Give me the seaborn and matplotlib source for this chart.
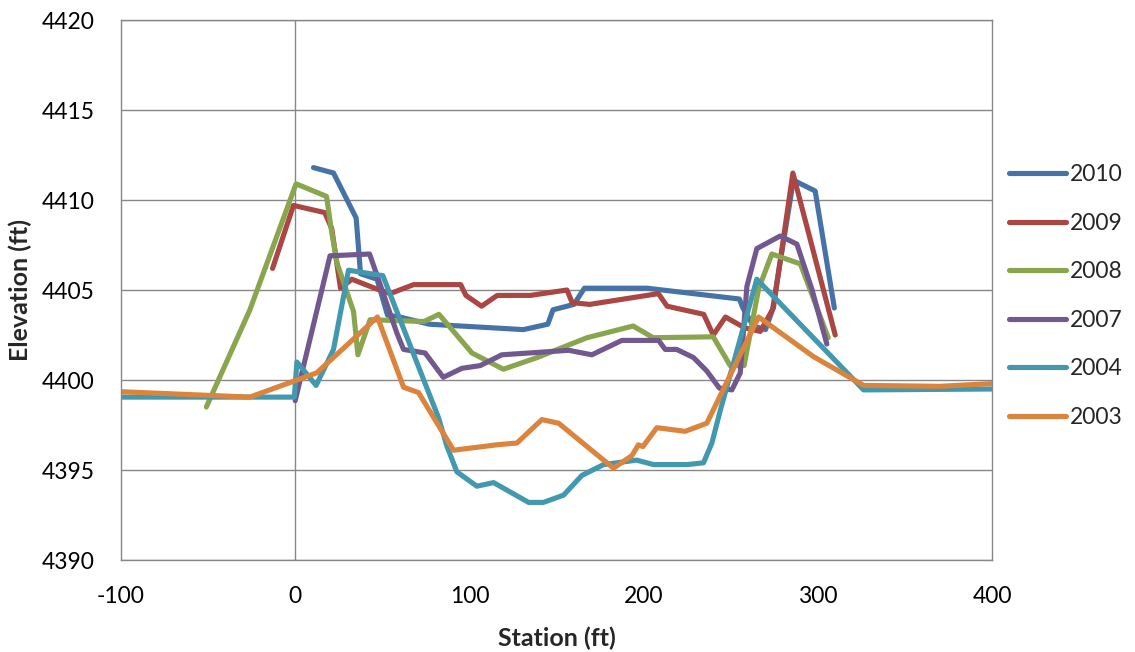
import pandas as pd
import matplotlib
matplotlib.use("Agg")
import matplotlib.pyplot as plt
import seaborn as sns

# -------------------------
# Survey cross sections
# -------------------------
years = ["2010", "2009", "2008", "2007", "2004", "2003"]
colors = ["#4572A7", "#AA4643", "#89A54E", "#71588F", "#4198AF", "#DB843D"]

sta_2010 = [10.5, 22, 35, 37.5, 47, 53, 60, 77, 95, 131, 145, 148, 160, 166, 202,
            255, 257, 263, 270, 274, 286, 298.5, 309.5]
elev_2010 = [4411.8, 4411.5, 4409.0, 4405.9, 4405.6, 4403.6, 4403.5, 4403.1, 4403.0,
             4402.8, 4403.1, 4403.9, 4404.2, 4405.1, 4405.1, 4404.5, 4404.0, 4403.0,
             4402.8, 4403.9, 4411.1, 4410.5, 4404.0]

sta_2009 = [-13, -1, 17, 21, 26, 32.5, 47, 54.5, 68, 95, 98, 107, 116, 135, 156, 159,
            169, 208.5, 213.5, 234.5, 240, 247, 258, 267, 274.5, 285.7, 310]
elev_2009 = [4406.2, 4409.7, 4409.3, 4408.4, 4405.1, 4405.6, 4405.05, 4404.8, 4405.3,
             4405.3, 4404.7, 4404.1, 4404.7, 4404.7, 4405.0, 4404.3, 4404.2, 4404.8,
             4404.1, 4403.65, 4402.5, 4403.5, 4402.9, 4402.7, 4404.0, 4411.5, 4402.5]

sta_2008 = [-51, -26, 0.5, 18, 20.5, 24, 33.5, 36, 43, 74, 82.5, 101.5, 119.5, 139,
            167.5, 194, 205.5, 240, 249.7, 257.7, 266, 273.6, 290, 306]
elev_2008 = [4398.5, 4403.9, 4410.9, 4410.2, 4408.5, 4406.5, 4403.8, 4401.4, 4403.35,
             4403.25, 4403.65, 4401.5, 4400.6, 4401.25, 4402.35, 4403.0, 4402.35,
             4402.4, 4400.8, 4400.8, 4405.05, 4407.0, 4406.45, 4402.35]

sta_2007 = [0, 20, 42.7, 47, 58.4, 62.2, 74.6, 85, 95.7, 106.2, 118.6, 157, 170.3,
            187.5, 208.6, 212.4, 219, 228.6, 236.3, 243.5, 250.7, 255.5, 259.3, 265,
            278.4, 288, 296.6, 305.2]
elev_2007 = [4398.85, 4406.9, 4407.0, 4405.8, 4402.6, 4401.7, 4401.5, 4400.15, 4400.65,
             4400.8, 4401.4, 4401.65, 4401.4, 4402.2, 4402.2, 4401.7, 4401.7, 4401.25,
             4400.5, 4399.55, 4399.45, 4400.4, 4405.2, 4407.3, 4408.0, 4407.55,
             4405.05, 4402.0]

sta_2004 = [-100, -0.5, 1, 12, 22, 30.6, 50.3, 82.3, 87, 92.8, 104.3, 113.9, 134,
            142.5, 154, 164.6, 177, 196, 205.7, 224.9, 234.4, 239.2, 244, 265, 326.3, 400]
elev_2004 = [4399.05, 4399.05, 4401.0, 4399.7, 4401.7, 4406.1, 4405.8, 4397.9, 4396.35,
             4394.9, 4394.1, 4394.3, 4393.2, 4393.2, 4393.6, 4394.7, 4395.3, 4395.55,
             4395.3, 4395.3, 4395.4, 4396.5, 4398.3, 4405.6, 4399.45, 4399.5]

sta_2003 = [-100, -26, 12.4, 47.2, 62.2, 70.8, 90.9, 115.8, 127.3, 141.6, 151.2, 182.7,
            193.3, 197, 199.6, 207.6, 223.9, 236.3, 266, 297.5, 326.3, 370, 400]
elev_2003 = [4399.35, 4399.05, 4400.4, 4403.5, 4399.6, 4399.3, 4396.1, 4396.4, 4396.5,
             4397.8, 4397.6, 4395.1, 4395.8, 4396.4, 4396.3, 4397.35, 4397.15, 4397.6,
             4403.5, 4401.3, 4399.7, 4399.65, 4399.8]

stations = [sta_2010, sta_2009, sta_2008, sta_2007, sta_2004, sta_2003]
elevations = [elev_2010, elev_2009, elev_2008, elev_2007, elev_2004, elev_2003]

# long-form table for seaborn
frames = []
for yr, sx, ey in zip(years, stations, elevations):
    frames.append(pd.DataFrame({"Station": sx, "Elevation": ey, "Year": yr}))
df = pd.concat(frames, ignore_index=True)

# -------------------------
# Plot
# -------------------------
sns.set_style("white")
plt.rcParams["font.family"] = ["Lato", "DejaVu Sans"]
plt.rcParams["axes.unicode_minus"] = False

grid_col = "#878787"

fig = plt.figure(figsize=(11.35, 6.52), dpi=100)
ax = fig.add_axes([0.1066, 0.1411, 0.7674, 0.8282])

sns.lineplot(
    data=df, x="Station", y="Elevation", hue="Year",
    hue_order=years, palette=colors, sort=False, estimator=None,
    linewidth=3.7, ax=ax,
)
for ln in ax.lines:
    ln.set_solid_capstyle("round")
    ln.set_solid_joinstyle("round")

ax.set_xlim(-100, 400)
ax.set_ylim(4390, 4420)
ax.set_xticks(range(-100, 401, 100))
ax.set_yticks(range(4390, 4421, 5))

ax.yaxis.grid(True, color=grid_col, linewidth=1.0)
ax.xaxis.grid(False)
ax.axvline(0, color=grid_col, linewidth=1.0, zorder=0.5)
ax.set_axisbelow(True)
for sp in ax.spines.values():
    sp.set_color(grid_col)
    sp.set_linewidth(1.0)

ax.tick_params(axis="both", length=0, labelsize=16.5, colors="black")
ax.tick_params(axis="y", pad=19)
ax.tick_params(axis="x", pad=19)

ax.set_xlabel("Station (ft)", fontsize=18, fontweight="bold", labelpad=14)
ax.set_ylabel("Elevation (ft)", fontsize=18, fontweight="bold", labelpad=7)

handles, labels = ax.get_legend_handles_labels()
ax.legend(
    handles, labels, loc="center left",
    bbox_to_anchor=(0.889, 0.546), bbox_transform=fig.transFigure,
    frameon=False, fontsize=16.5, handlelength=2.5, handletextpad=0.15,
    labelspacing=1.2, borderpad=0, borderaxespad=0,
)

plt.savefig("out.png", dpi=100)
plt.close()
